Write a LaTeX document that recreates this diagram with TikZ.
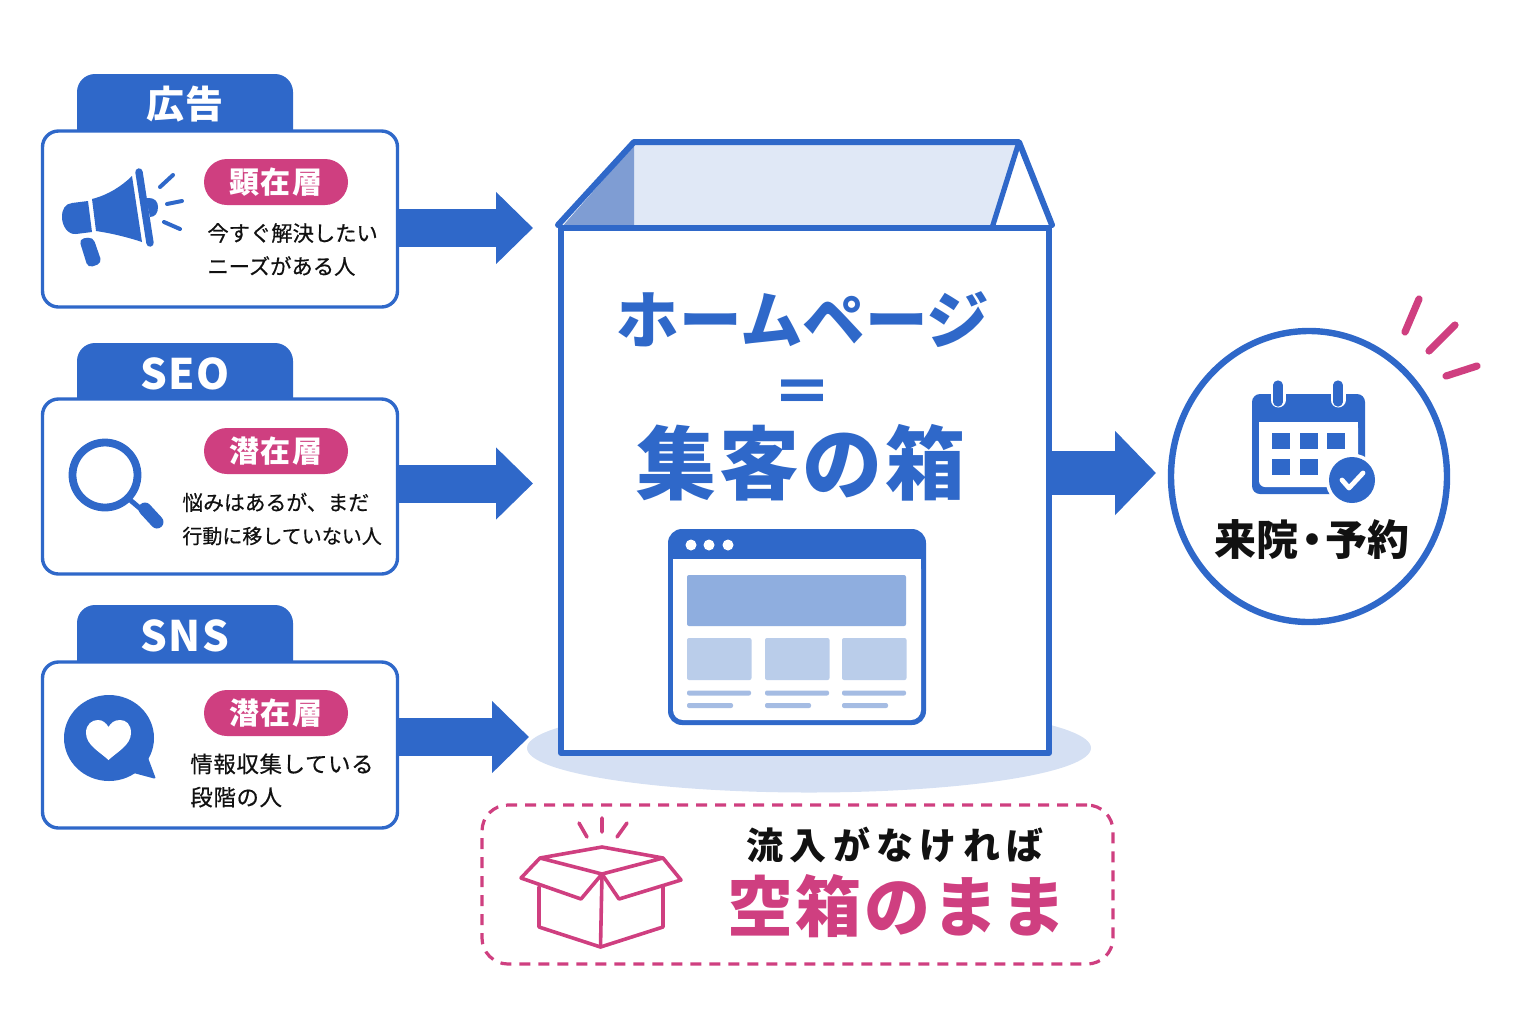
\documentclass[tikz,border=0pt]{standalone}
\usepackage{fontspec}
\usetikzlibrary{arrows.meta,shapes.geometric,calc}
\newfontfamily\jp{Noto Sans CJK JP}
\newcommand{\fsz}[1]{\fontsize{#1}{#1}\selectfont}
\definecolor{bl}{HTML}{2F68C9}
\definecolor{pk}{HTML}{CF3F80}
\definecolor{ink}{HTML}{111111}
\definecolor{halo}{HTML}{D5E0F3}
\definecolor{inner}{HTML}{E0E8F6}
\definecolor{innerd}{HTML}{7F9DD3}
\definecolor{hero}{HTML}{8FAEDF}
\definecolor{thumb}{HTML}{BACDEA}
\definecolor{rowc}{HTML}{A5BCE3}
\tikzset{
  card/.style={draw=bl,line width=1.7pt,fill=white,rounded corners=8pt,minimum width=177.5pt,inner sep=0pt},
  tabbox/.style={fill=bl,rounded corners=9pt,minimum width=108pt,minimum height=38pt,inner sep=0pt},
  tabtext/.style={text=white,font=\jp\bfseries\fsz{20}},
  pill/.style={fill=pk,rounded corners=11.5pt,minimum width=72pt,minimum height=23pt,inner sep=0pt,text=white,font=\jp\bfseries\addfontfeature{LetterSpace=4.5}\fsz{15}},
  body/.style={text=ink,align=left,inner sep=0pt,anchor=west,font=\jp\addfontfeature{FakeBold=0.5}\fontsize{10.65}{16.6}\selectfont},
  flow/.style={draw=bl,line width=19pt,-{Triangle[length=18.5pt,width=35pt]}},
  icon/.style={fill=bl,draw=none},
  pinkray/.style={draw=pk,line width=3.6pt,line cap=round},
  boxline/.style={draw=pk,line width=1.8pt,line join=round,line cap=round},
  heading/.style={text=bl,inner sep=0pt,font=\jp\bfseries}
}
\begin{document}
\begin{tikzpicture}[x=.5pt,y=-.5pt]
\useasboundingbox (0,0) rectangle (1536,1024);
% tabs and cards
\node[tabbox] (tab1) at (185,112) {};
\node[tabbox] (tab2) at (185,381) {};
\node[tabbox] (tab3) at (185,643) {};
\node[card,minimum height=88pt] (card1) at (220,219) {};
\node[card,minimum height=87.5pt] (card2) at (220,486.5) {};
\node[card,minimum height=83pt] (card3) at (220,745) {};
\node[tabtext,font=\jp\bfseries\addfontfeature{LetterSpace=3}\fsz{19}] (t1) at (185,104) {広告};
\node[tabtext,font=\jp\bfseries\addfontfeature{LetterSpace=3}\fsz{21}] (t2) at (185,374) {SEO};
\node[tabtext,font=\jp\bfseries\addfontfeature{LetterSpace=3}\fsz{21}] (t3) at (185,636) {SNS};
\node[pill] (p1) at (276,182) {顕在層};
\node[pill] (p2) at (276,451) {潜在層};
\node[pill] (p3) at (276,713) {潜在層};
\node[body] (b1) at (207,249.5) {今すぐ解決したい\\ニーズがある人};
\node[body] (b2) at (182,519) {{\fontsize{10.4}{16.6}\selectfont 悩みはあるが、まだ}\\{\fontsize{10}{16.6}\selectfont 行動に移していない人}};
\node[body,font=\jp\addfontfeature{FakeBold=0.5,LetterSpace=3}\fontsize{11.2}{16.6}\selectfont] (b3) at (190,780.5) {情報収集している\\段階の人};
% megaphone
\fill[icon] (92,199) .. controls (108,195) and (122,186) .. (132,176) -- (142,242) .. controls (127,237) and (110,233) .. (96,231) -- cycle;
\fill[icon] (88,201) -- (92,232) -- (76,234) .. controls (68,235) and (62,226) .. (62,217) .. controls (62,209) and (65,204) .. (72,203) -- cycle;
\fill[icon,rounded corners=2.5pt] (79,239) -- (93,237) -- (102,263) -- (88,268) -- cycle;
\draw[bl,line width=3.7pt,line cap=round] (139,172) -- (150,243);
\fill[icon] (146,198) -- (149,198) .. controls (155,198) and (158,202) .. (158,207) .. controls (158,213) and (155,217) .. (150,217) -- cycle;
\draw[bl,line width=2pt,line cap=round] (160,187) -- (173,175) (167,204) -- (182,201) (164,222) -- (180,229);
% magnifier
\draw[bl,line width=3.9pt] (105,475) circle[radius=32.5];
\draw[bl,line width=2.5pt] (129,499) -- (142,510);
\draw[bl,line width=6.5pt,line cap=round] (145,509) -- (157,522);
% bubble
\fill[icon] (109,738) ellipse[x radius=45,y radius=43];
\fill[icon,rounded corners=1pt] (147,755) -- (156,779) -- (130,772) -- cycle;
\fill[white] (108.5,760) .. controls (100,752) and (86,745) .. (86,733) .. controls (86,724) and (92,720) .. (98,720) .. controls (103,720) and (106,723) .. (108.5,727) .. controls (111,723) and (114,720) .. (120,720) .. controls (126,720) and (131,724) .. (131,733) .. controls (131,745) and (117,752) .. (108.5,760) -- cycle;
% big box
\fill[halo] (809,748) ellipse[x radius=282,y radius=44.5];
\fill[inner] (634,145) -- (1016,145) -- (992,228) -- (561,228) -- cycle;
\fill[innerd] (634,145) -- (634,228) -- (561,228) -- cycle;
\node[draw=bl,line width=3pt,line join=round,fill=white,minimum width=244pt,minimum height=262.5pt,inner sep=0pt] (front) at (805,490.5) {};
\coordinate (bl1) at (634,142);
\coordinate (br1) at (1019,142);
\draw[bl,line width=3pt,line join=round,line cap=round] (front.north west) -- (bl1) -- (br1) -- (front.north east);
\draw[bl,line width=2.6pt,line join=round] (br1) -- (992,228);
\node[heading,font=\jp\bfseries\fsz{31.3}] (h1) at (803,320) {ホームページ};
\node[heading,font=\jp\bfseries\fsz{30}] (h2) at (802,397) {＝};
\node[heading,font=\jp\bfseries\addfontfeature{LetterSpace=4}\fsz{40}] (h3) at (801,463) {集客の箱};
% browser
\fill[bl,rounded corners=7pt] (668,529) rectangle (926,725);
\fill[white,rounded corners=5pt] (673,559) rectangle (921,720);
\fill[white] (673,559) rectangle (921,570);
\foreach \x in {691,709,728} \fill[white] (\x,545) circle[radius=5.5];
\fill[hero,rounded corners=1pt] (687,575) rectangle (906,626);
\foreach \x in {687,765,842} {
  \fill[thumb,rounded corners=1pt] (\x,638) rectangle ++(64.5,42);
  \fill[rowc,rounded corners=1pt] (\x,690.5) rectangle ++(64,5);
  \fill[rowc,rounded corners=1pt] (\x,703) rectangle ++(46,5);
}
% goal circle
\node[ellipse,draw=bl,line width=3.2pt,fill=white,minimum width=138pt,minimum height=145.5pt,inner sep=0pt] (goal) at (1309,476.5) {};
\draw[pinkray] (1419,299) -- (1405,332);
\draw[pinkray] (1455,325) -- (1429,351);
\draw[pinkray] (1477,366) -- (1446,376);
\fill[bl,rounded corners=4pt] (1252,394) rectangle (1365,494);
\fill[white,rounded corners=3pt] (1259,422) rectangle (1358,487);
\fill[white] (1259,422) rectangle (1358,440);
\foreach \x in {1278,1338} {
  \draw[white,line width=7.5pt,line cap=round] (\x,388) -- (\x,400);
  \draw[bl,line width=4.6pt,line cap=round] (\x,385) -- (\x,402);
}
\foreach \x/\y in {1272/433,1300/433,1327/433,1272/459,1300/459} \fill[bl] (\x,\y) rectangle ++(18,16);
\fill[white] (1352,480) circle[radius=26.5];
\fill[bl] (1352,480) circle[radius=23];
\draw[white,line width=2.4pt,line cap=round,line join=round] (1342,480) -- (1349,488) -- (1363,473);
\node[text=ink,inner sep=0pt,font=\jp\bfseries\fsz{21}] (goaltext) at (1312,540) {来院\kern-3.5pt・\kern-4pt 予約};
% flows
\coordinate (e1) at (533,228);
\coordinate (e2) at (533,483.5);
\coordinate (e3) at (529,737);
\coordinate (e4) at (1156,473);
\draw[flow] (card1.east |- e1) -- (e1);
\draw[flow] (card2.east |- e2) -- (e2);
\draw[flow] (card3.east |- e3) -- (e3);
\draw[flow,line width=22pt,-{Triangle[length=20.5pt,width=41pt]}] (front.east |- e4) -- (e4);
% warning box
\node[draw=pk,line width=1.6pt,dash pattern=on 5.5pt off 4pt,rounded corners=13pt,minimum width=315.5pt,minimum height=79.5pt,inner sep=0pt] (warn) at (797.5,884.5) {};
\draw[boxline] (602,847) -- (663,858) -- (602,874) -- (540,858) -- cycle;
\draw[boxline] (540,858) -- (521,878) -- (581,899) -- (602,874) -- (619,899) -- (681,880) -- (663,858);
\draw[boxline] (539,887) -- (539,927) -- (600.5,947) -- (663,927) -- (663,887);
\draw[boxline] (602,874) -- (600.5,947);
\draw[boxline] (579,823) -- (587,837) (602,818) -- (602,832) (627,823) -- (617,837);
\node[text=ink,inner sep=0pt,font=\jp\bfseries\addfontfeature{LetterSpace=17}\fsz{18.5}] (w1) at (895,845) {流入がなければ};
\node[text=pk,inner sep=0pt,font=\jp\bfseries\addfontfeature{LetterSpace=3.5}\fsz{33}] (w2) at (897,906) {空箱のまま};
\end{tikzpicture}
\end{document}
